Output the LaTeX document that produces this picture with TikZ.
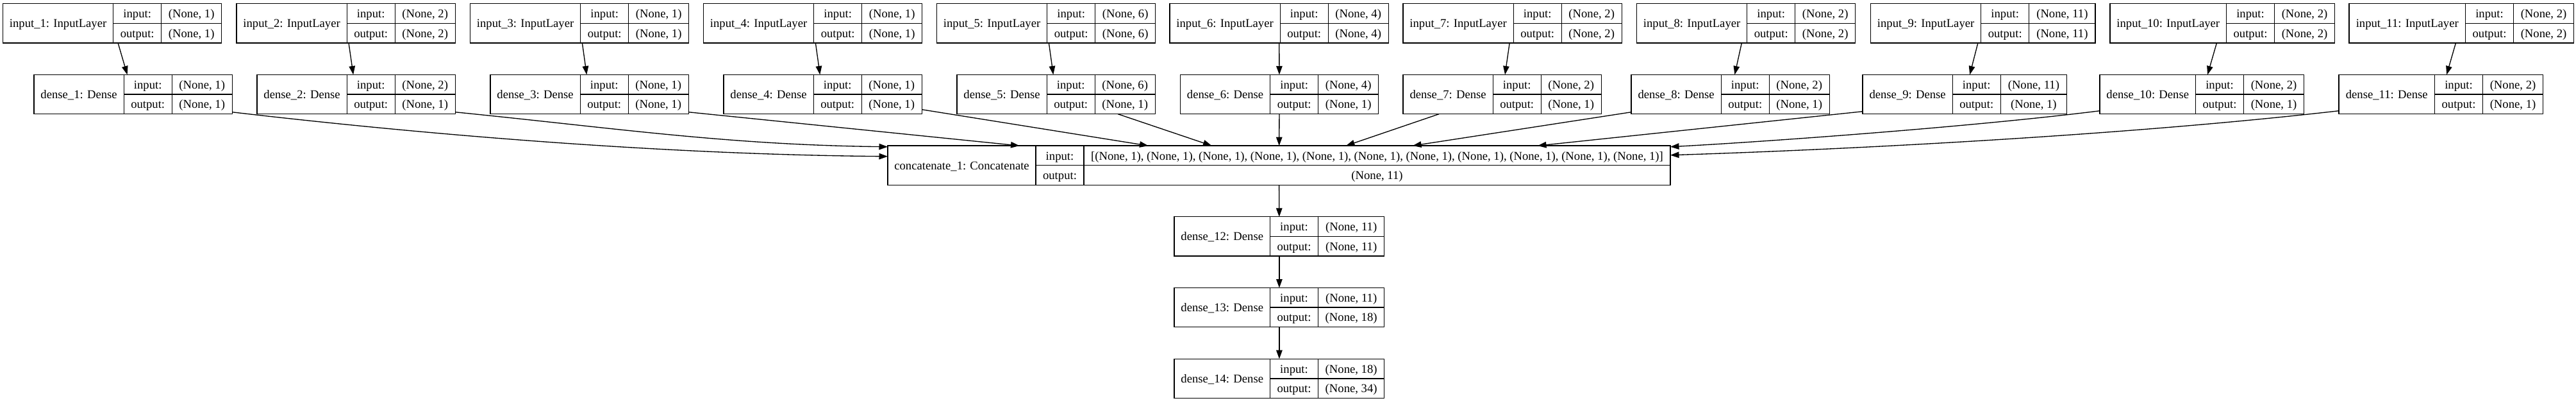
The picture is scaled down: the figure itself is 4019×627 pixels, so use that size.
\documentclass[tikz,border=0pt]{standalone}
\usepackage{fontspec}
\setmainfont{Liberation Serif}
\usetikzlibrary{arrows.meta,calc}
\tikzset{
  recbox/.style={draw=black, line width=1.33pt, minimum height=61.3pt, inner sep=0pt, outer sep=0pt},
  recline/.style={draw=black, line width=1.33pt},
  txt/.style={font=\fontsize{18.67pt}{22pt}\selectfont, inner sep=0pt, text height=13pt, text depth=0pt},
  conn/.style={draw=black, line width=1.33pt, -{Triangle[length=13.5pt,width=9.5pt]}},
}
% name, left, top, label width, shape width, label, input shape, output shape
\newcommand\rec[8]{%
  \pgfmathsetmacro\recA{#2+#4}%
  \pgfmathsetmacro\recB{\recA+75}%
  \pgfmathsetmacro\recC{\recB+#5}%
  \pgfmathsetmacro\recW{\recC-#2}%
  \pgfmathsetmacro\recM{#3+30.65}%
  \pgfmathsetmacro\recL{#3+61.3}%
  \pgfmathsetmacro\recU{#3+15.4}%
  \pgfmathsetmacro\recD{#3+45.9}%
  \node[recbox, minimum width=\recW pt, anchor=north west] (#1) at (#2,#3) {};
  \draw[recline] (\recA,#3) -- (\recA,\recL) (\recB,#3) -- (\recB,\recL) (\recA,\recM) -- (\recC,\recM);
  \node[txt] (#1-name) at ({(#2+\recA)/2},\recM) {#6};
  \node[txt] (#1-il) at ({(\recA+\recB)/2},\recU) {input:};
  \node[txt] (#1-ol) at ({(\recA+\recB)/2},\recD) {output:};
  \node[txt] (#1-is) at ({(\recB+\recC)/2},\recU) {#7};
  \node[txt] (#1-os) at ({(\recB+\recC)/2},\recD) {#8};
}
\begin{document}
\begin{tikzpicture}[x=1pt,y=-1pt]
\fill[white] (0,0) rectangle (4019,627);
\useasboundingbox (0,0) rectangle (4019,627);
% input layers
\rec{in1}{4.5}{5.7}{172.2}{94}{input\_1: InputLayer}{(None, 1)}{(None, 1)}
\rec{in2}{369}{5.7}{172.2}{94}{input\_2: InputLayer}{(None, 2)}{(None, 2)}
\rec{in3}{733.5}{5.7}{172.2}{94}{input\_3: InputLayer}{(None, 1)}{(None, 1)}
\rec{in4}{1097.5}{5.7}{172.2}{94}{input\_4: InputLayer}{(None, 1)}{(None, 1)}
\rec{in5}{1461.5}{5.7}{172.2}{94}{input\_5: InputLayer}{(None, 6)}{(None, 6)}
\rec{in6}{1825}{5.7}{172.2}{94}{input\_6: InputLayer}{(None, 4)}{(None, 4)}
\rec{in7}{2189}{5.7}{172.2}{94}{input\_7: InputLayer}{(None, 2)}{(None, 2)}
\rec{in8}{2553.5}{5.7}{172.2}{94}{input\_8: InputLayer}{(None, 2)}{(None, 2)}
\rec{in9}{2918.5}{5.7}{172.2}{103.3}{input\_9: InputLayer}{(None, 11)}{(None, 11)}
\rec{in10}{3292}{5.7}{181.5}{94}{input\_10: InputLayer}{(None, 2)}{(None, 2)}
\rec{in11}{3665}{5.7}{181.5}{94}{input\_11: InputLayer}{(None, 2)}{(None, 2)}
% dense layers
\rec{d1}{53}{116.4}{140.2}{94}{dense\_1: Dense}{(None, 1)}{(None, 1)}
\rec{d2}{401}{116.4}{140.2}{94}{dense\_2: Dense}{(None, 2)}{(None, 1)}
\rec{d3}{765}{116.4}{140.2}{94}{dense\_3: Dense}{(None, 1)}{(None, 1)}
\rec{d4}{1129}{116.4}{140.2}{94}{dense\_4: Dense}{(None, 1)}{(None, 1)}
\rec{d5}{1493}{116.4}{140.2}{94}{dense\_5: Dense}{(None, 6)}{(None, 1)}
\rec{d6}{1841.5}{116.4}{140.2}{94}{dense\_6: Dense}{(None, 4)}{(None, 1)}
\rec{d7}{2189}{116.4}{140.2}{94}{dense\_7: Dense}{(None, 2)}{(None, 1)}
\rec{d8}{2545}{116.4}{140.2}{94}{dense\_8: Dense}{(None, 2)}{(None, 1)}
\rec{d9}{2906}{116.4}{140.2}{103.3}{dense\_9: Dense}{(None, 11)}{(None, 1)}
\rec{d10}{3276}{116.4}{149.5}{94}{dense\_10: Dense}{(None, 2)}{(None, 1)}
\rec{d11}{3649}{116.4}{149.5}{94}{dense\_11: Dense}{(None, 2)}{(None, 1)}
% concatenate
\rec{cc}{1385}{227.1}{231}{915}{concatenate\_1: Concatenate}{[(None, 1), (None, 1), (None, 1), (None, 1), (None, 1), (None, 1), (None, 1), (None, 1), (None, 1), (None, 1), (None, 1)]}{(None, 11)}
% tail
\rec{d12}{1832}{337.8}{149.5}{103.3}{dense\_12: Dense}{(None, 11)}{(None, 11)}
\rec{d13}{1832}{448.5}{149.5}{103.3}{dense\_13: Dense}{(None, 11)}{(None, 18)}
\rec{d14}{1832}{559.2}{149.5}{103.3}{dense\_14: Dense}{(None, 18)}{(None, 34)}
% connectors input -> dense
\foreach \i in {1,...,11} \draw[conn] (in\i) -- (d\i);
% dense -> concatenate
\draw[conn] ($(d1.south east)+(0,-3)$) .. controls +(300,35) and +(-350,-3) .. ($(cc.west)+(0,-14)$);
\draw[conn] ($(d2.south east)+(0,-3)$) .. controls +(250,25) and +(-250,-3) .. ($(cc.west)+(0,-29)$);
\draw[conn] ($(d3.south east)+(0,-3)$) -- ($(cc.north)+(-405,0)$);
\draw[conn] ($(d4.south east)+(0,-7)$) -- ($(cc.north)+(-204,0)$);
\draw[conn] ($(d5.south)+(96.5,0)$) -- ($(cc.north)+(-105,0)$);
\draw[conn] (d6) -- (cc);
\draw[conn] ($(d7.south)+(-98.5,0)$) -- ($(cc.north)+(104.5,0)$);
\draw[conn] ($(d8.south west)+(0,-3)$) -- ($(cc.north)+(208.5,0)$);
\draw[conn] ($(d9.south west)+(0,-4)$) -- ($(cc.north)+(403.5,0)$);
\draw[conn] ($(d10.south west)+(0,-5)$) .. controls +(-200,25) and +(150,-8) .. ($(cc.east)+(0,-29)$);
\draw[conn] ($(d11.south west)+(0,-5)$) .. controls +(-350,40) and +(250,-8) .. ($(cc.east)+(0,-16)$);
% chain
\draw[conn] (cc) -- (d12);
\draw[conn] (d12) -- (d13);
\draw[conn] (d13) -- (d14);
\end{tikzpicture}
\end{document}
